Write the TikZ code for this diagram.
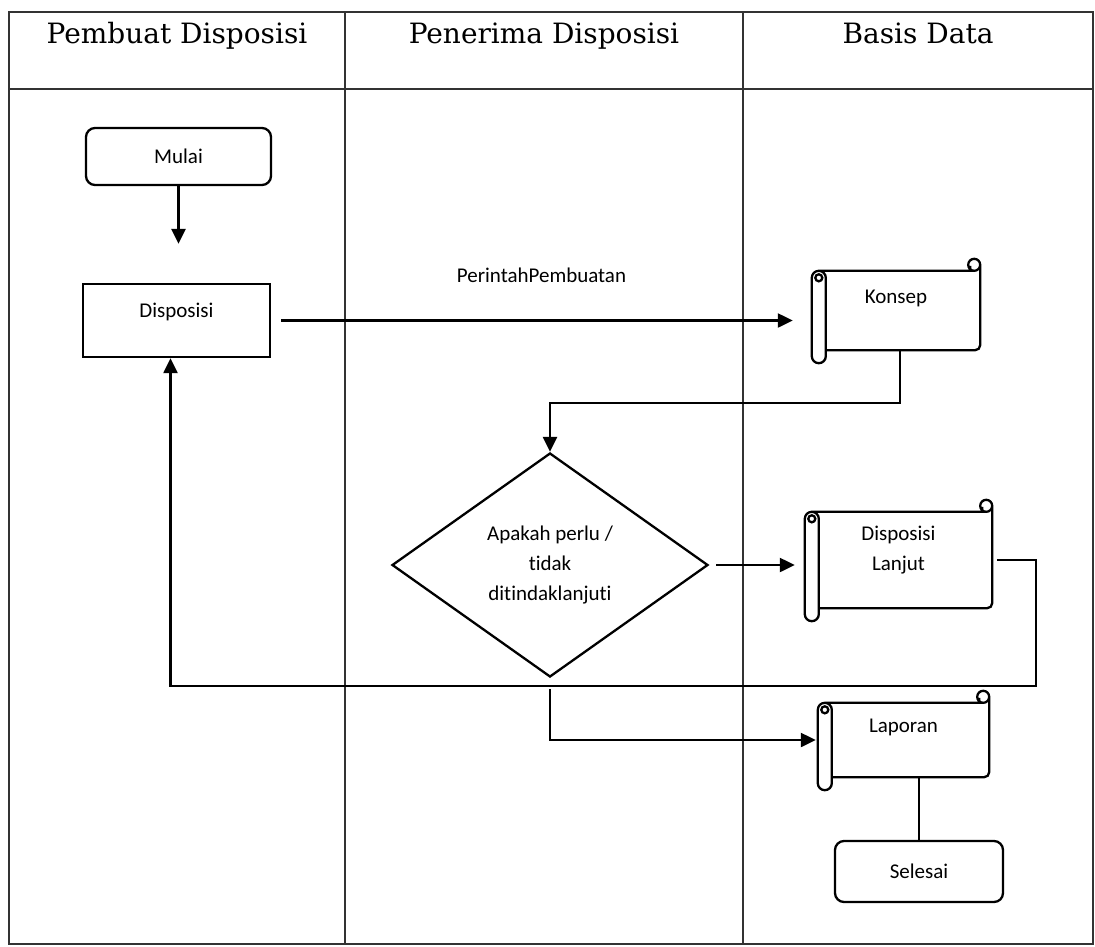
\documentclass[tikz,border=0pt]{standalone}
\usepackage{fontspec}
\setmainfont{Carlito}[Ligatures={NoCommon}]
\newfontfamily\headfont{DejaVu Serif}
\usetikzlibrary{arrows.meta,shapes.geometric,calc}

% outline of a horizontal scroll drawn around a node's rectangle:
% a rolled edge on the left and a small curl at the top right
\newcommand{\scrollart}[1]{%
  \draw[boxline] let \p1=(#1.north west), \p2=(#1.south east) in
    [rounded corners=7pt] (\x1,\y1) rectangle (\x1+14pt,\y2-13pt)
    [sharp corners] (\x1+7pt,\y1-7pt) circle[radius=3.5pt]
    (\x1+7pt,\y1) -- (\x2-6pt,\y1)
    (\x2-6pt,\y1+6pt) circle[radius=6pt]
    (\x2-10pt,\y1+5pt) -- (\x2-10pt,\y1)
    [rounded corners=5pt] (\x2,\y1+6pt) -- (\x2,\y2) -- (\x1+14pt,\y2);
}

\begin{document}
\begin{tikzpicture}[x=1pt,y=-1pt,
  lane/.style={line width=1.4pt, draw=black!80},
  boxline/.style={line width=2.3pt},
  flow/.style={line width=2.3pt},
  arrowed/.style={flow, -{Triangle[length=15pt,width=14pt]}},
  head/.style={font=\headfont\fontsize{28}{32}\selectfont, anchor=base, inner sep=0},
  txt/.style={font=\fontsize{21}{30}\selectfont},
  terminal/.style={draw, boxline, rounded corners=9pt, rectangle, inner sep=0, txt},
  process/.style={draw, boxline, rectangle, inner sep=0, txt},
  decision/.style={draw, boxline, diamond, inner sep=0, txt, align=center},
  scroll/.style={rectangle, inner sep=0, txt},
]
\useasboundingbox (0,0) rectangle (1095,946);

% swimlane table
\draw[lane] (9,12) rectangle (1093,944);
\draw[lane] (9,89) -- (1093,89);
\draw[lane] (345,12) -- (345,944);
\draw[lane] (743,12) -- (743,944);

\node[head] (h1) at (177,43) {Pembuat Disposisi};
\node[head] (h2) at (544,43) {Penerima Disposisi};
\node[head] (h3) at (918,43) {Basis Data};

% flow elements
\node[terminal, minimum width=185pt, minimum height=57pt] (mulai) at (178.5,156.5) {Mulai};
\node[process, minimum width=187pt, minimum height=73pt, text height=15pt, text depth=22pt] (disp) at (176.5,320.5) {Disposisi};
\node[scroll, minimum width=168pt, minimum height=79pt, text height=15pt, text depth=30pt] (konsep) at (896,310.5) {Konsep};
\node[decision, minimum width=316pt, minimum height=224pt, shape aspect=1.41] (dec) at (550,565) {Apakah perlu /\\tidak\\ditindaklanjuti};
\node[scroll, minimum width=187pt, minimum height=96pt, text height=10pt, text depth=50pt] (lanjut) at (898.5,560) {\begin{tabular}[t]{@{}c@{}}Disposisi\\Lanjut\end{tabular}};
\node[scroll, minimum width=171pt, minimum height=74pt, text height=15pt, text depth=31pt] (laporan) at (903.5,740) {Laporan};
\node[terminal, minimum width=168pt, minimum height=61pt] (selesai) at (919,871.5) {Selesai};

\scrollart{konsep}
\scrollart{lanjut}
\scrollart{laporan}

% connectors
\draw[arrowed, shorten >=39pt] (mulai.south) -- (mulai.south |- disp.north);
\draw[arrowed, shorten <=10pt, shorten >=19pt] (disp.east) --
  node[txt, yshift=45pt] (perintah) {PerintahPembuatan} (disp.east -| konsep.west);
\draw[arrowed] ([xshift=4pt]konsep.south) -- ++(0,53) -| (dec.north);
\draw[arrowed, shorten <=7pt, shorten >=10pt] (dec.east) -- (dec.east -| lanjut.west);
\draw[arrowed, shorten <=5pt] (lanjut.east) -- ++(44,0) -- ++(0,126) -| ([xshift=-6pt]disp.south);
\draw[arrowed, shorten <=11pt, shorten >=2pt] (dec.south) |- (laporan.west);
\draw[flow] (selesai.north |- laporan.south) -- (selesai.north);
\end{tikzpicture}
\end{document}
